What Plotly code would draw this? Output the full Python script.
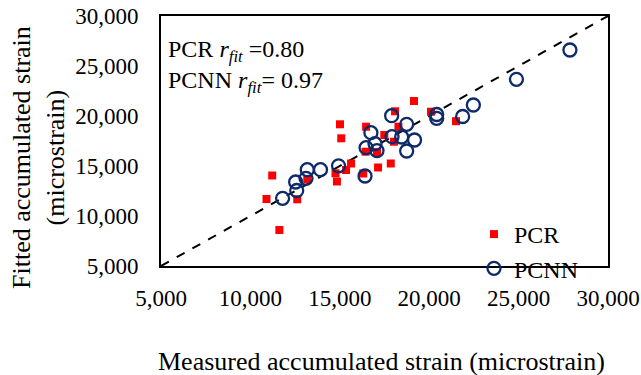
import plotly.graph_objects as go

# ---- data ----
pcr_measured = [10900, 11220, 11620, 12620, 13180, 14760, 14840, 15350, 15630, 15010,
                15080, 16310, 16440, 16470, 17080, 17140, 17490, 17850, 18030, 18090,
                18280, 19150, 20100, 21500]
pcr_fitted = [11700, 14050, 8600, 11670, 13670, 14270, 13450, 14600, 15250, 19170,
              17770, 14250, 16430, 18930, 16400, 14850, 18100, 15250, 17430, 20470,
              18930, 21500, 20430, 19480]

pcnn_measured = [11800, 12590, 12530, 13110, 13180, 13920, 14930, 16410, 16740, 16470,
                 16970, 17080, 17900, 17920, 18460, 19180, 18740, 18740, 20420, 20420,
                 21870, 22470, 24880, 27870]
pcnn_fitted = [11770, 12550, 13400, 13770, 14630, 14630, 15020, 14000, 18330, 16830,
               17230, 16530, 20030, 17930, 17900, 17600, 19170, 16500, 20150, 19770,
               19950, 21100, 23670, 26600]

line_1to1 = [5000, 30000]
axis_range = [5000, 30000]
tick_vals = [5000, 10000, 15000, 20000, 25000, 30000]
tick_text = ["5,000", "10,000", "15,000", "20,000", "25,000", "30,000"]

series_names = ["PCR", "PCNN"]
annot_lines = ["PCR <i>r</i><sub><i>fit</i></sub> =0.80",
               "PCNN <i>r</i><sub><i>fit</i></sub>= 0.97"]
x_title = "Measured accumulated strain (microstrain)"
y_title = "Fitted accumulated strain<br>(microstrain)"

# ---- layout geometry ----
W, H = 641, 375
L, R, T, B = 161, 33, 16, 109
PW, PH = W - L - R, H - T - B
FONT = "Liberation Serif, Times New Roman, serif"


def px_x(px):
    return (px - L) / PW


def px_y(py):
    return (H - B - py) / PH


fig = go.Figure()
fig.add_trace(go.Scatter(
    x=line_1to1, y=line_1to1, mode="lines",
    line=dict(color="black", width=2, dash="dash"),
    showlegend=False, hoverinfo="skip"))
fig.add_trace(go.Scatter(
    x=pcr_measured, y=pcr_fitted, mode="markers", name=series_names[0],
    marker=dict(symbol="square", size=8, color="#ff0000")))
fig.add_trace(go.Scatter(
    x=pcnn_measured, y=pcnn_fitted, mode="markers", name=series_names[1],
    marker=dict(symbol="circle-open", size=13, color="#0d2a6a",
                line=dict(width=2.3, color="#0d2a6a"))))

axis_common = dict(
    range=axis_range, tickvals=tick_vals, ticktext=tick_text,
    showgrid=False, zeroline=False, showline=True, linecolor="black",
    linewidth=2, mirror=True, ticks="",
    tickfont=dict(family=FONT, size=23, color="black"))

fig.update_xaxes(**axis_common, ticklabelstandoff=10)
fig.update_yaxes(**axis_common, ticklabelstandoff=16)

fig.add_annotation(text=annot_lines[0], xref="paper", yref="paper",
                   x=px_x(166), y=px_y(51), xanchor="left", yanchor="middle",
                   showarrow=False, font=dict(family=FONT, size=24, color="black"))
fig.add_annotation(text=annot_lines[1], xref="paper", yref="paper",
                   x=px_x(166), y=px_y(82), xanchor="left", yanchor="middle",
                   showarrow=False, font=dict(family=FONT, size=24, color="black"))
fig.add_annotation(text=x_title, xref="paper", yref="paper",
                   x=px_x(381), y=px_y(361), xanchor="center", yanchor="middle",
                   showarrow=False, font=dict(family=FONT, size=26, color="black"))
fig.add_annotation(text=y_title, xref="paper", yref="paper", textangle=-90,
                   x=px_x(38), y=px_y(158), xanchor="center", yanchor="middle",
                   showarrow=False, font=dict(family=FONT, size=26, color="black"))

fig.update_layout(
    width=W, height=H,
    margin=dict(l=L, r=R, t=T, b=B, autoexpand=False),
    paper_bgcolor="white", plot_bgcolor="white",
    showlegend=True,
    legend=dict(x=px_x(474), y=px_y(212), xanchor="left", yanchor="top",
                bgcolor="rgba(0,0,0,0)", borderwidth=0,
                font=dict(family=FONT, size=24, color="black"),
                itemwidth=30, tracegroupgap=0),
)

fig.write_html("out.html")
